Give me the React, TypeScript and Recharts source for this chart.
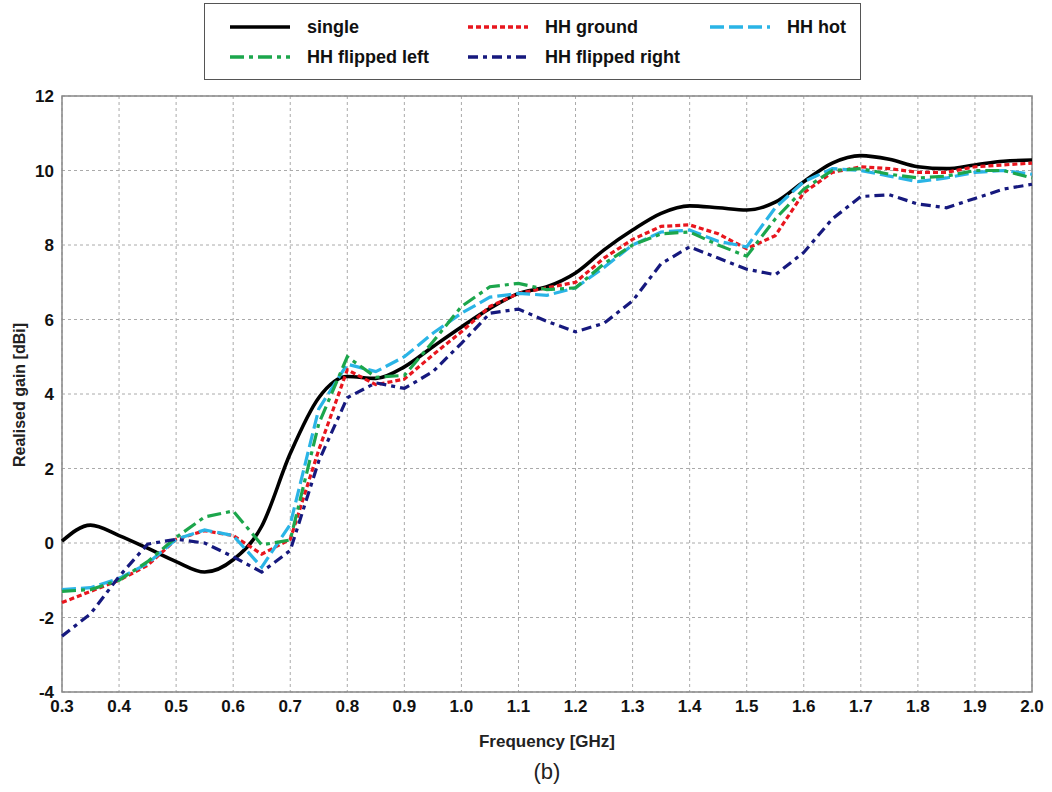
import React from 'react'
import {
  LineChart,
  Line,
  XAxis,
  YAxis,
  CartesianGrid,
  ReferenceArea,
} from 'recharts'

const frequency = [
  0.3, 0.35, 0.4, 0.45, 0.5, 0.55, 0.6, 0.65, 0.7, 0.75, 0.8, 0.85, 0.9, 0.95,
  1.0, 1.05, 1.1, 1.15, 1.2, 1.25, 1.3, 1.35, 1.4, 1.45, 1.5, 1.55, 1.6, 1.65,
  1.7, 1.75, 1.8, 1.85, 1.9, 1.95, 2.0,
]

const single = [
  0.05, 0.48, 0.2, -0.14, -0.5, -0.78, -0.45, 0.45, 2.4, 3.9, 4.47, 4.42, 4.73,
  5.27, 5.8, 6.3, 6.7, 6.88, 7.25, 7.87, 8.4, 8.85, 9.05, 9.0, 8.94, 9.15, 9.7,
  10.2, 10.4, 10.3, 10.1, 10.05, 10.15, 10.25, 10.28,
]

const hhGround = [
  -1.6, -1.3, -1.0, -0.6, 0.1, 0.33, 0.2, -0.3, 0.1, 2.5, 4.65, 4.25, 4.4, 5.05,
  5.67, 6.35, 6.7, 6.85, 7.0, 7.65, 8.15, 8.5, 8.54, 8.3, 7.9, 8.25, 9.4, 9.95,
  10.1, 10.05, 9.95, 9.95, 10.1, 10.15, 10.2,
]

const hhHot = [
  -1.25, -1.2, -0.95, -0.55, 0.1, 0.35, 0.2, -0.65, 0.5, 3.6, 4.8, 4.6, 5.0,
  5.63, 6.17, 6.6, 6.7, 6.65, 6.85, 7.4, 8.0, 8.35, 8.4, 8.1, 7.95, 9.0, 9.7,
  10.05, 10.0, 9.85, 9.7, 9.8, 9.95, 10.0, 9.9,
]

const hhFlippedLeft = [
  -1.3, -1.25, -1.0, -0.5, 0.15, 0.7, 0.86, -0.05, 0.08, 3.2, 5.0, 4.45, 4.5,
  5.4, 6.35, 6.88, 6.97, 6.8, 6.85, 7.5, 8.0, 8.3, 8.35, 8.0, 7.7, 8.7, 9.5,
  10.0, 10.05, 9.9, 9.8, 9.85, 10.0, 10.0, 9.8,
]

const hhFlippedRight = [
  -2.5, -1.9, -0.9, -0.03, 0.1, 0.0, -0.37, -0.78, -0.2, 2.2, 3.9, 4.3, 4.15,
  4.6, 5.36, 6.17, 6.28, 5.95, 5.67, 5.9, 6.5, 7.5, 7.95, 7.65, 7.35, 7.2, 7.8,
  8.7, 9.3, 9.35, 9.1, 9.0, 9.25, 9.5, 9.63,
]

const xTicks = [
  0.3, 0.4, 0.5, 0.6, 0.7, 0.8, 0.9, 1.0, 1.1, 1.2, 1.3, 1.4, 1.5, 1.6, 1.7, 1.8,
  1.9, 2.0,
]
const yTicks = [-4, -2, 0, 2, 4, 6, 8, 10, 12]

const data = frequency.map((f, i) => ({
  f,
  single: single[i],
  hhGround: hhGround[i],
  hhHot: hhHot[i],
  hhFlippedLeft: hhFlippedLeft[i],
  hhFlippedRight: hhFlippedRight[i],
}))

const FONT = '"Liberation Sans", Arial, sans-serif'

const series = [
  { key: 'single', name: 'single', color: '#000000', dash: undefined, curve: 'monotone', width: 3.6 },
  { key: 'hhGround', name: 'HH ground', color: '#e8161e', dash: '5 3', curve: 'linear', width: 3.2 },
  { key: 'hhHot', name: 'HH hot', color: '#2ab4e6', dash: '14 5', curve: 'linear', width: 3.2 },
  { key: 'hhFlippedLeft', name: 'HH flipped left', color: '#1ca64c', dash: '14 5 4 5', curve: 'linear', width: 3.2 },
  { key: 'hhFlippedRight', name: 'HH flipped right', color: '#16197e', dash: '10 5 4 5', curve: 'linear', width: 3.2 },
] as const

// legend slots: [column x, row y]
const legendSlots = [
  [230, 27],
  [468, 27],
  [710, 27],
  [230, 57],
  [468, 57],
]

function ChartLegend() {
  return (
    <svg
      width={658}
      height={78}
      style={{ position: 'absolute', left: 204, top: 3, overflow: 'visible' }}
    >
      <rect x={0.5} y={0.5} width={656} height={76} fill="#fff" stroke="#555" />
      {series.map((s, i) => {
        const [lx, ly] = legendSlots[i]
        const x = lx - 204
        const y = ly - 3
        return (
          <g key={s.key}>
            <line
              x1={x}
              x2={x + 60}
              y1={y}
              y2={y}
              stroke={s.color}
              strokeWidth={3.5}
              strokeDasharray={s.dash}
            />
            <text
              x={x + 77}
              y={y + 6}
              fontFamily={FONT}
              fontWeight="bold"
              fontSize={18}
              fill="#111"
            >
              {s.name}
            </text>
          </g>
        )
      })}
    </svg>
  )
}

export default function App() {
  return (
    <div
      style={{
        position: 'absolute',
        left: 0,
        top: 0,
        width: 1052,
        height: 792,
        background: '#fff',
      }}
    >
      <LineChart
        width={1052}
        height={792}
        data={data}
        margin={{ top: 96, right: 20, left: 0, bottom: 0 }}
      >
        <CartesianGrid stroke="#aaa" strokeDasharray="3 3" />
        <ReferenceArea
          x1={0.3}
          x2={2.0}
          y1={-4}
          y2={12}
          fill="none"
          stroke="#888"
          strokeWidth={1.5}
        />
        <XAxis
          dataKey="f"
          type="number"
          domain={[0.3, 2.0]}
          ticks={xTicks}
          tickFormatter={(v: number) => v.toFixed(1)}
          interval={0}
          height={100}
          axisLine={false}
          tickLine={false}
          tick={{ fontSize: 17, fontWeight: 'bold', fill: '#111', fontFamily: FONT }}
          label={{
            content: () => (
              <text
                x={547}
                y={747}
                textAnchor="middle"
                fontFamily={FONT}
                fontWeight="bold"
                fontSize={17}
                fill="#222"
              >
                Frequency [GHz]
              </text>
            ),
          }}
        />
        <YAxis
          type="number"
          domain={[-4, 12]}
          ticks={yTicks}
          interval={0}
          width={62}
          axisLine={false}
          tickLine={false}
          tick={{ fontSize: 17, fontWeight: 'bold', fill: '#111', fontFamily: FONT }}
          label={{
            content: () => (
              <text
                x={25}
                y={395}
                textAnchor="middle"
                transform="rotate(-90 25 395)"
                fontFamily={FONT}
                fontWeight="bold"
                fontSize={16}
                fill="#222"
              >
                Realised gain [dBi]
              </text>
            ),
          }}
        />
        {series.map(s => (
          <Line
            key={s.key}
            dataKey={s.key}
            name={s.name}
            type={s.curve}
            stroke={s.color}
            strokeWidth={s.width}
            strokeDasharray={s.dash}
            dot={false}
            activeDot={false}
            isAnimationActive={false}
          />
        ))}
      </LineChart>
      <ChartLegend />
      <div
        style={{
          position: 'absolute',
          left: 0,
          width: 1094,
          top: 759,
          textAlign: 'center',
          fontFamily: FONT,
          fontSize: 22,
          color: '#222',
        }}
      >
        (b)
      </div>
    </div>
  )
}
